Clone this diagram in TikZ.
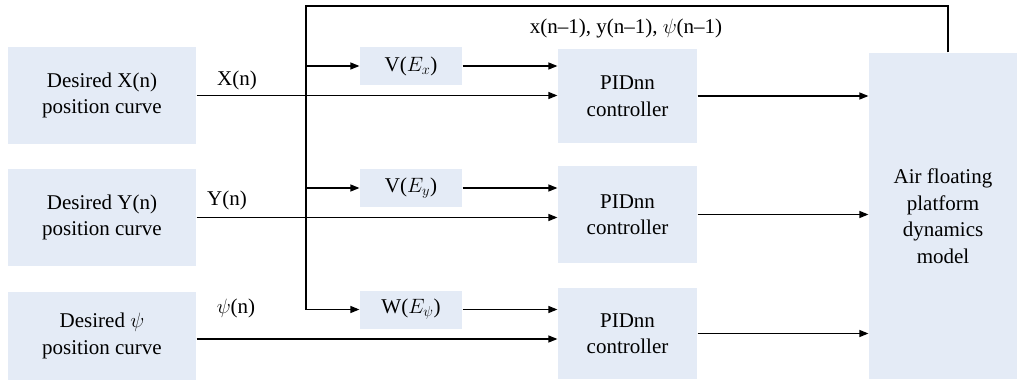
\documentclass[tikz,border=0pt]{standalone}
\usepackage{fontspec}
\setmainfont{Liberation Serif}
\usetikzlibrary{arrows.meta}
\definecolor{boxfill}{RGB}{228,235,246}

\begin{document}
\begin{tikzpicture} [x=1pt,y=-1pt,line width=1.2pt,font=\fontsize{21}{26.5}\selectfont]
\tikzstyle{block}=[rectangle,fill=boxfill,align=center,inner sep=0pt]
\tikzstyle{sig}=[-{Triangle[length=9pt,width=7pt]}]
\useasboundingbox (0,0) rectangle (1017,385);
\node at(102,95.5)(D1) [block,minimum width=188pt,minimum height=97pt]{Desired X(n)\\position curve};
\node at(102,217.5)(D2) [block,minimum width=188pt,minimum height=97pt]{Desired Y(n)\\position curve};
\node at(102,336)(D3) [block,minimum width=188pt,minimum height=88pt]{Desired $\psi$\\position curve};
\node at(411,66)(Vx) [block,minimum width=102pt,minimum height=38pt]{V($E_x$)};
\node at(411,188)(Vy) [block,minimum width=102pt,minimum height=38pt]{V($E_y$)};
\node at(411,309.5)(Wp) [block,minimum width=102pt,minimum height=38pt]{W($E_\psi$)};
\node at(627.5,96)(P1) [block,minimum width=139pt,minimum height=94pt]{PIDnn\\controller};
\node at(627.5,214.5)(P2) [block,minimum width=139pt,minimum height=97pt]{PIDnn\\controller};
\node at(627.5,333.5)(P3) [block,minimum width=139pt,minimum height=91pt]{PIDnn\\controller};
\node at(943,216)(A) [block,minimum width=148pt,minimum height=326pt]{Air floating\\platform\\dynamics\\model};
\coordinate (T) at (306,6);
% labels
\node at(237,80)(LX){X(n)};
\node at(227,200)(LY){Y(n)};
\node at(236,308)(LP){$\psi$(n)};
\node at(626,28)(LF){x(n--1), y(n--1), $\psi$(n--1)};
% feedback bus
\draw [sig] ([xshift=5pt]A.north) |- (T) -- (T |- Wp) -- (Wp);
\draw [sig] (T |- Vx) -- (Vx);
\draw [sig] (T |- Vy) -- (Vy);
% inputs
\draw [sig] (D1) -- (P1.west |- D1);
\draw [sig] (D2) -- (P2.west |- D2);
\draw [sig] (D3.east |- 0,339) -- (P3.west |- 0,339);
\draw [sig] (Vx) -- (P1.west |- Vx);
\draw [sig] (Vy) -- (P2.west |- Vy);
\draw [sig] (Wp) -- (P3.west |- Wp);
% outputs
\draw [sig] (P1) -- (A.west |- P1);
\draw [sig] (P2) -- (A.west |- P2);
\draw [sig] (P3) -- (A.west |- P3);
\end{tikzpicture}
\end{document}
